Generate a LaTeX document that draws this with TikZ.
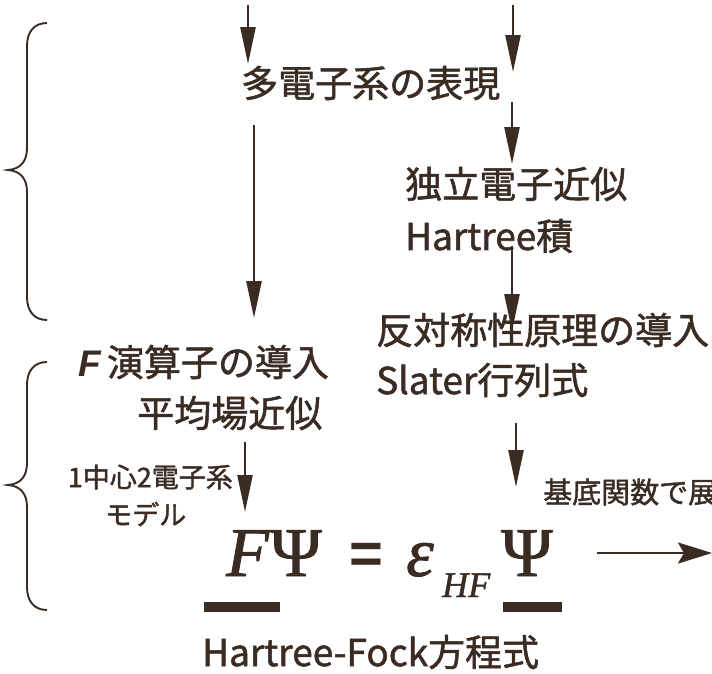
\documentclass[tikz,border=0pt]{standalone}
\usepackage{fontspec}
\setmainfont{Noto Sans CJK JP}[FakeBold=1.4]
\newfontfamily\tms{Liberation Serif}[FakeBold=1.2]
\newfontfamily\lsans{Liberation Sans}
\usetikzlibrary{arrows.meta}
\definecolor{ink}{HTML}{3A2B23}
\begin{document}
\begin{tikzpicture}[x=1pt,y=-1pt,
  every node/.style={inner sep=0pt, text=ink},
  arr/.style={draw=ink, line width=2.4pt, -{Triangle[length=37pt,width=15pt]}},
  arrwide/.style={draw=ink, line width=2.4pt, -{Stealth[length=34pt,width=21pt,inset=6pt]}},
  big/.style={font=\fontsize{37}{40}\selectfont},
  small/.style={font=\fontsize{27}{30}\selectfont},
  eqserif/.style={font=\fontsize{70}{70}\tms, anchor=base west},
  eqital/.style={font=\fontsize{70}{70}\tms\itshape, anchor=base west},
  brace/.style={draw=ink, line width=1.9pt},
  bar/.style={fill=ink}]
\useasboundingbox (0,0) rectangle (712,673);
\fill[white] (0,0) rectangle (712,673);
\clip (0,0) rectangle (712,673);

% braces
\draw[brace] (47,23) .. controls (34,23) and (27,32) .. (27,46) -- (27,148)
  .. controls (27,162) and (20,169) .. (8,170) .. controls (20,171) and (27,178) .. (27,192)
  -- (27,297) .. controls (27,311) and (34,320) .. (47,320);
\draw[brace] (47,362) .. controls (34,362) and (27,371) .. (27,385) -- (27,463)
  .. controls (27,477) and (20,484) .. (8,485) .. controls (20,486) and (27,493) .. (27,507)
  -- (27,587) .. controls (27,601) and (34,610) .. (47,610);

% texts
\node[big, anchor=west] (multi) at (241,83) {多電子系の表現};
\node[big, anchor=west] (indep) at (405,184) {独立電子近似};
\node[big, anchor=west] (hprod) at (405,236) {Hartree積};
\node[big, anchor=west] (anti) at (376,330) {反対称性原理の導入};
\node[big, anchor=west] (fop) at (78,362) {{\lsans\bfseries\itshape F}\,演算子の導入};
\node[big, anchor=west] (slater) at (376,380) {Slater行列式};
\node[big, anchor=west] (mf) at (137,413) {平均場近似};
\node[small, anchor=east] (model1) at (233,477) {1中心2電子系};
\node[small, anchor=west] (model2) at (105,514) {モデル};
\node[font=\fontsize{29}{32}\selectfont, anchor=west] (basis) at (543,492) {基底関数で展開};

% equation
\node[eqital] (F) at (226,576) {F};
\node[eqserif] (psi1) at (270,576) {Ψ};
\node[font=\fontsize{58}{58}\lsans\bfseries] (eq) at (366,558) {=};
\node[eqital] (eps) at (406,576) {ε};
\node[font=\fontsize{36}{36}\tms\itshape, anchor=base west] (hf) at (442,597) {HF};
\node[eqserif] (psi2) at (501,576) {Ψ};
\fill[bar] (204,602) rectangle (280,612);
\fill[bar] (503,602) rectangle (562,612);
\node[big, anchor=west] (hfeq) at (202,652) {Hartree-Fock方程式};

% arrows
\coordinate (a1s) at (248,5);   \coordinate (a1e) at (248,64);
\coordinate (a2s) at (513,5);   \coordinate (a2e) at (513,72);
\coordinate (a3s) at (254,125); \coordinate (a3e) at (254,318);
\coordinate (a4s) at (512,102); \coordinate (a4e) at (512,164);
\coordinate (a5s) at (512,248); \coordinate (a5e) at (512,331);
\coordinate (a6s) at (245,442); \coordinate (a6e) at (245,512);
\coordinate (a7s) at (516,423); \coordinate (a7e) at (516,487);
\coordinate (a8s) at (597,553); \coordinate (a8e) at (712,553);
\draw[arr] (a1s) -- (a1e);
\draw[arr] (a2s) -- (a2e);
\draw[arr] (a3s) -- (a3e);
\draw[arr] (a4s) -- (a4e);
\draw[arr] (a5s) -- (a5e);
\draw[arr] (a6s) -- (a6e);
\draw[arr] (a7s) -- (a7e);
\draw[arrwide] (a8s) -- (a8e);
\end{tikzpicture}
\end{document}
